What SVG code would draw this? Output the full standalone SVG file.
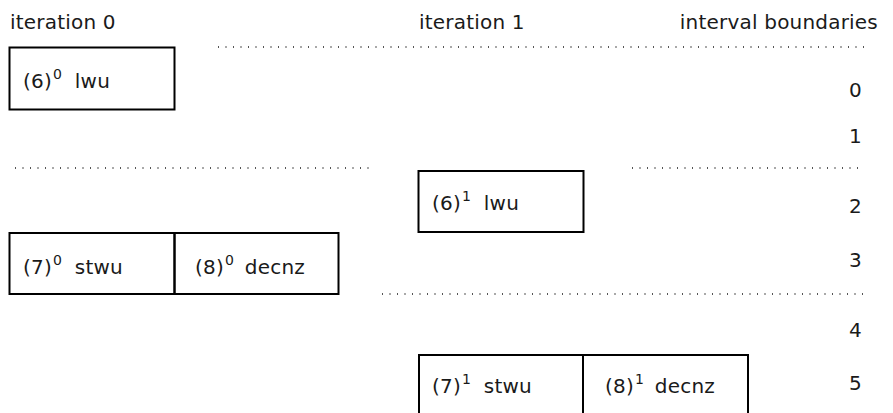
<svg xmlns="http://www.w3.org/2000/svg" width="893" height="413" viewBox="0 0 893 413">
  <style>
    text { font-family: "DejaVu Sans", "Liberation Sans", sans-serif; font-size: 20px; fill: #1a1a1a; letter-spacing: 0.2px; }
    .sup { font-size: 14px; letter-spacing: 0; }
    .box { fill: none; stroke: #000; stroke-width: 2; }
    .dots { stroke: #555; stroke-width: 2; stroke-dasharray: 1 6.5; fill: none; }
    .num { text-anchor: end; }
  </style>

  <!-- column headings -->
  <g id="headings">
    <text x="10" y="29">iteration 0</text>
    <text x="419" y="29">iteration 1</text>
    <text x="878" y="29" text-anchor="end">interval boundaries</text>
  </g>

  <!-- dotted interval separators -->
  <g id="connectors">
    <line class="dots" x1="218" y1="47" x2="864" y2="47"/>
    <line class="dots" x1="15" y1="168" x2="372" y2="168"/>
    <line class="dots" x1="632" y1="168" x2="864" y2="168"/>
    <line class="dots" x1="382" y1="294" x2="864" y2="294"/>
  </g>

  <!-- interval boundary numbers -->
  <g id="boundaries">
    <text class="num" x="862" y="97">0</text>
    <text class="num" x="862" y="143">1</text>
    <text class="num" x="862" y="213">2</text>
    <text class="num" x="862" y="267">3</text>
    <text class="num" x="862" y="337">4</text>
    <text class="num" x="862" y="390">5</text>
  </g>

  <!-- iteration 0 -->
  <g id="lwu0">
    <rect class="box" x="9.5" y="47.5" width="165" height="62"/>
    <text x="23" y="88">(6)<tspan class="sup" dy="-9" dx="1">0</tspan><tspan dy="9" dx="13">lwu</tspan></text>
  </g>
  <g id="stwu0">
    <rect class="box" x="9.5" y="233" width="165" height="61"/>
    <text x="23" y="274">(7)<tspan class="sup" dy="-9" dx="1">0</tspan><tspan dy="9" dx="13">stwu</tspan></text>
  </g>
  <g id="decnz0">
    <rect class="box" x="174.5" y="233" width="164" height="61"/>
    <text x="195" y="274">(8)<tspan class="sup" dy="-9" dx="1">0</tspan><tspan dy="9" dx="11">decnz</tspan></text>
  </g>

  <!-- iteration 1 -->
  <g id="lwu1">
    <rect class="box" x="418.5" y="171" width="165" height="61"/>
    <text x="432" y="210">(6)<tspan class="sup" dy="-9" dx="1">1</tspan><tspan dy="9" dx="13">lwu</tspan></text>
  </g>
  <g id="stwu1">
    <path class="box" d="M419 414 V355 H583 V414"/>
    <text x="432" y="393">(7)<tspan class="sup" dy="-9" dx="1">1</tspan><tspan dy="9" dx="13">stwu</tspan></text>
  </g>
  <g id="decnz1">
    <path class="box" d="M583 355 H748 V414"/>
    <text x="605" y="393">(8)<tspan class="sup" dy="-9" dx="1">1</tspan><tspan dy="9" dx="11">decnz</tspan></text>
  </g>
</svg>
